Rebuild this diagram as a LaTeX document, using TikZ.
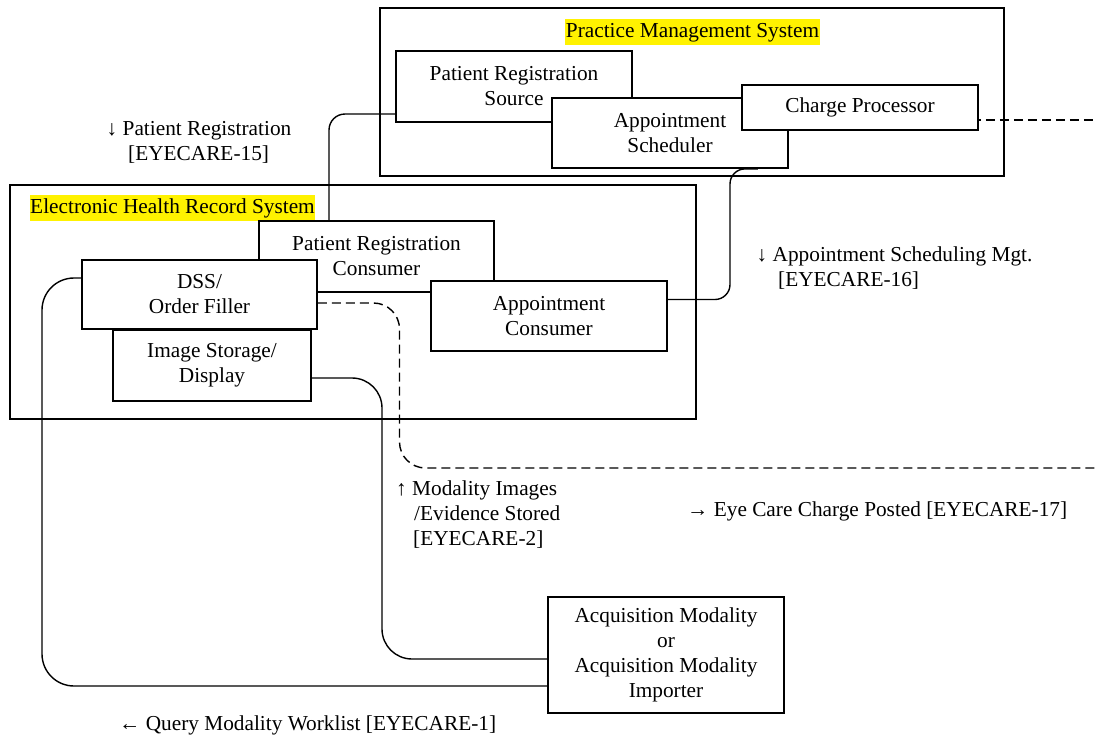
\documentclass[tikz,border=0pt]{standalone}
\usepackage{fontspec}
\setmainfont{Liberation Serif}
\usetikzlibrary{calc}
\begin{document}
\begin{tikzpicture}[x=1pt,y=-1pt,
  every node/.style={font=\fontsize{21.3pt}{25pt}\selectfont},
  outerbox/.style={draw, line width=1.5pt, inner sep=0pt},
  actor/.style={draw, fill=white, line width=1.8pt, align=center, inner sep=0pt},
  syslabel/.style={fill=yellow, inner xsep=0.5pt, inner ysep=2.5pt, text height=15.5pt, text depth=5pt},
  msg/.style={align=left, anchor=base west, inner sep=0pt},
  conn/.style={line width=1.4pt},
  dconn/.style={line width=1.4pt, dash pattern=on 9pt off 5pt}
]
\useasboundingbox (0,0) rectangle (1099,736);

% Practice Management System and its actors
\node[outerbox, minimum width=624pt, minimum height=168pt] (pms) at (692,92) {};
\node[syslabel] (pmslbl) at (692.5,32) {Practice Management System};
\node[actor, minimum width=236pt, minimum height=71pt] (prs) at (514,86.5) {Patient Registration\\Source};
\node[actor, minimum width=236pt, minimum height=70pt] (as) at (670,133) {Appointment\\Scheduler};
\node[actor, minimum width=236pt, minimum height=45pt] (cp) at (860,107.5) {Charge Processor};

% Electronic Health Record System and its actors
\node[outerbox, minimum width=686pt, minimum height=234pt] (ehr) at (353,302) {};
\node[syslabel] (ehrlbl) at (172.5,208) {Electronic Health Record System};
\node[actor, minimum width=235pt, minimum height=71pt] (prc) at (376.5,256.5) {Patient Registration\\Consumer};
\node[actor, minimum width=198pt, minimum height=71pt] (isd) at (212,365.5) {Image Storage/\\Display};
\node[actor, minimum width=235pt, minimum height=69pt] (dss) at (199.5,294.5) {DSS/\\Order Filler};
\node[actor, minimum width=236pt, minimum height=70pt] (ac) at (549,316) {Appointment\\Consumer};

% Modality
\node[actor, minimum width=236pt, minimum height=116pt] (acq) at (666,655) {Acquisition Modality\\or\\Acquisition Modality\\Importer};

% Free ends of the charge-posting lines
\coordinate (postA) at (1095,120);
\coordinate (postB) at (1095,468);

% Transactions
\draw[conn, rounded corners=16pt] (prs.west |- 0,114) -| (prc.north -| 329,0);
\draw[conn, rounded corners=15pt] ($(as.south east)+(-31,0)$) -| (730,234) |- (ac.east |- 0,299.5);
\draw[conn, rounded corners=32pt] (dss.west |- 0,278) -| (42,480) |- (acq.west |- 0,686);
\draw[conn, rounded corners=30pt] (isd.east |- 0,378) -| (382,520) |- (acq.west |- 0,659);
\draw[dconn, rounded corners=26pt] (dss.east |- 0,303) -| (399.5,390) |- (postB);
\draw[dconn, dash phase=7pt] (cp.east |- 0,120) -- (postA);

% Transaction labels (placed by the baseline of their last line)
\node[msg] (m15) at (106.5,160) {↓ Patient Registration\\\hspace*{21.5pt}[EYECARE-15]};
\node[msg] (m16) at (756.5,286.5) {↓ Appointment Scheduling Mgt.\\\hspace*{21.5pt}[EYECARE-16]};
\node[msg] (m2) at (396,545) {↑ Modality Images\\\hspace*{18pt}/Evidence Stored\\\hspace*{17pt}[EYECARE-2]};
\node[msg] (m17) at (687,516) {→ Eye Care Charge Posted [EYECARE-17]};
\node[msg] (m1) at (119,730) {← Query Modality Worklist [EYECARE-1]};
\end{tikzpicture}
\end{document}
